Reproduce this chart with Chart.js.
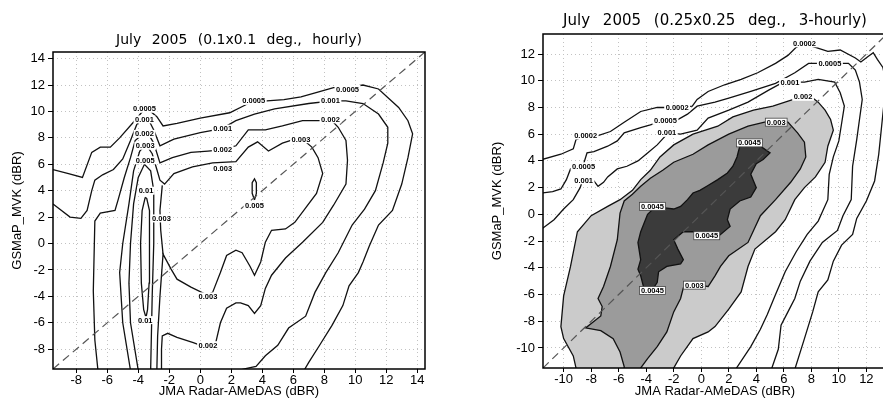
<!DOCTYPE html>
<html>
<head>
<title>GSMaP_MVK vs JMA Radar-AMeDAS, July 2005</title>
<script src="https://cdn.jsdelivr.net/npm/chart.js@4"></script>
<style>
  body {
    margin: 0;
    background: #fff;
    width: 883px;
    height: 399px;
    overflow: hidden;
    position: relative;
  }
  canvas {
    position: absolute;
    top: 0;
  }
  #hourly { left: 0; }
  #threeHourly { left: 440px; }
</style>
</head>
<body>
<canvas id="hourly" width="440" height="399"></canvas>
<canvas id="threeHourly" width="500" height="399"></canvas>

<script>
// ---- tick values ----
var hourlyTicks = [-8, -6, -4, -2, 0, 2, 4, 6, 8, 10, 12, 14];
var threeHourlyTicks = [-10, -8, -6, -4, -2, 0, 2, 4, 6, 8, 10, 12];

// ---- 0.1 deg hourly: contour lines [x, y] in dBR ----
var h0005 = [[-9.5,5.6],[-8.5,5.3],[-7.6,5.0],[-7.0,6.9],[-6.45,7.3],[-5.8,7.3],[-5.2,8.0],[-4.3,9.2],[-3.8,9.9],[-3.6,10.1],
  [-3.2,10.0],[-2.8,9.6],[-2.4,8.9],[-1.5,9.1],[0,9.5],[1.9,9.9],[3.1,10.6],[4.3,10.8],[5.4,10.9],[6.5,11.1],[7.7,11.5],
  [8.6,11.8],[9.5,11.8],[10.5,12.0],[11.5,11.7],[12.8,10.3],[13.4,9.3],[13.7,8.3],[13.4,6.5],[13.0,4.5],[12.4,2.5],
  [11.5,1.4],[10.9,-0.2],[10.5,-1.4],[10.2,-2.2],[9.6,-3.2],[9.2,-4.7],[8.5,-6.2],[7.7,-7.7],[7.0,-9.0],[6.7,-9.6]];
var h001 = [[-9.5,3.0],[-8.4,2.0],[-7.7,1.9],[-7.3,2.5],[-7.0,4.0],[-6.8,4.8],[-6.3,5.2],[-5.6,5.6],[-5.0,6.4],[-4.5,7.8],
  [-4.1,9.0],[-3.7,9.5],[-3.3,9.3],[-3.0,8.6],[-2.6,7.4],[-1.7,7.9],[0,8.4],[1.4,8.7],[2.3,9.3],[3.5,9.8],[4.8,10.2],
  [7.0,10.6],[8.5,10.8],[9.4,10.8],[10.5,10.6],[11.5,9.8],[12.1,8.8],[12.1,7.6],[11.8,6.1],[11.3,4.0],[10.6,2.6],
  [9.8,1.4],[8.9,-0.7],[8.1,-2.2],[7.4,-3.7],[6.8,-5.5],[5.7,-6.4],[5.0,-7.7],[4.2,-8.5],[3.6,-9.3],[3.0,-9.45],[2.5,-9.6]];
var h002 = [[-6.6,-9.6],[-6.8,-7.3],[-6.9,-3.6],[-6.8,1.7],[-6.45,2.3],[-5.5,2.5],[-5.3,3.3],[-4.9,5.0],[-4.5,6.5],[-4.2,7.8],
  [-3.7,8.3],[-3.3,8.2],[-3.0,7.6],[-2.6,6.1],[-1.8,6.5],[-0.6,6.9],[0.5,7.0],[1.4,7.1],[2.3,7.4],[3.1,8.6],[4.2,8.6],
  [5.3,8.9],[6.6,9.3],[8.5,9.3],[8.9,8.8],[9.4,7.8],[9.5,6.3],[9.4,4.5],[8.6,2.9],[7.9,1.6],[6.6,0.1],[5.5,-1.1],
  [4.6,-2.4],[4.2,-3.4],[3.9,-4.7],[3.5,-5.3],[3.1,-4.7],[2.6,-4.5],[2.3,-4.5],[1.7,-4.9],[1.3,-6.0],[1.0,-7.5],
  [0.45,-7.9],[-0.45,-7.5],[-1.5,-7.1],[-2.1,-6.8],[-2.45,-7.0],[-2.5,-8.0],[-2.5,-9.6]];
var h003 = [[-4.5,-9.6],[-5.0,-6.0],[-5.2,-2.2],[-5.0,0],[-4.6,3.0],[-4.3,5.5],[-3.9,7.0],[-3.5,7.5],[-3.1,6.8],[-2.8,5.6],
  [-2.6,4.8],[-2.3,4.5],[-1.7,5.3],[-0.5,5.8],[0.8,6.1],[2.3,6.2],[3.1,7.3],[3.7,7.7],[4.4,7.0],[5.3,7.6],[6.1,7.9],
  [6.5,8.0],[7.2,7.3],[7.6,6.5],[7.9,5.3],[7.5,3.8],[6.8,2.7],[6.1,1.6],[5.5,1.1],[4.6,1.0],[4.2,0.1],[3.9,-1.4],
  [3.5,-2.4],[3.2,-1.7],[2.7,-0.7],[2.3,-0.5],[1.7,-0.9],[1.3,-2.2],[0.8,-3.7],[0.45,-3.9],[-0.6,-3.3],[-1.5,-2.7],
  [-1.9,-1.9],[-2.4,-0.8],[-2.6,-4.0],[-2.75,-7.0],[-2.8,-9.6]];
var h003b = [[-2.45,4.4],[-2.6,2.5],[-2.55,1.0],[-2.4,-0.8]];
var h005 = [[-4.0,-9.6],[-4.5,-6.0],[-4.6,-3.0],[-4.5,0],[-4.3,3.0],[-4.0,5.0],[-3.6,6.0],[-3.2,5.5],[-3.0,4.0],[-3.0,0],
  [-3.1,-4.0],[-3.2,-9.6]];
var h005b = [[3.5,3.3],[3.35,3.8],[3.35,4.6],[3.5,4.9],[3.62,4.6],[3.62,3.8],[3.5,3.3]];
var h01 = [[-3.55,3.5],[-3.75,2.5],[-3.85,0],[-3.8,-3.0],[-3.65,-5.0],[-3.5,-5.6],[-3.4,-5.0],[-3.3,-3.0],[-3.25,0],
  [-3.3,2.5],[-3.45,3.4],[-3.55,3.5]];
var hourlyLabels = [
  ['0.0005',-3.6,10.2],['0.001',-3.6,9.4],['0.002',-3.6,8.3],['0.003',-3.55,7.4],['0.005',-3.55,6.3],['0.01',-3.5,4.0],
  ['0.01',-3.55,-5.8],['0.003',-2.5,1.9],['0.003',0.5,-4.0],['0.002',0.5,-7.7],['0.005',3.5,2.9],
  ['0.0005',3.45,10.8],['0.001',1.45,8.7],['0.002',1.45,7.1],['0.003',1.45,5.7],['0.003',6.5,7.9],
  ['0.0005',9.5,11.7],['0.001',8.4,10.8],['0.002',8.4,9.4]
];

// ---- 0.25 deg 3-hourly: shaded regions and contour lines ----
var t002Region = [[-9.1,-12],[-9.1,-11.5],[-9.3,-10.6],[-10.0,-9.3],[-10.2,-8.4],[-10.0,-6.1],[-9.5,-3.9],[-9.0,-1.3],
  [-8.0,-0.1],[-6.8,0.6],[-5.9,1.1],[-5.0,1.8],[-4.4,2.6],[-3.7,3.3],[-3.0,4.3],[-2.0,5.2],[-0.6,6.0],[1.2,6.6],
  [2.3,7.3],[3.8,7.8],[5.2,8.1],[6.7,8.6],[7.3,8.8],[8.0,8.8],[8.5,8.4],[9.0,7.8],[9.4,7.1],[9.6,6.3],[9.2,5.1],
  [9.0,3.9],[8.3,2.8],[7.5,2.0],[6.8,1.1],[6.1,-0.4],[5.4,-1.3],[3.9,-2.6],[3.4,-3.9],[2.9,-5.8],[2.0,-7.1],
  [1.0,-8.4],[0.5,-8.8],[-0.6,-9.3],[-1.5,-10.6],[-2.0,-11.5],[-2.0,-12]];
var t003Region = [[-5.6,-12],[-5.6,-11.4],[-5.9,-10.3],[-6.4,-9.3],[-7.3,-8.7],[-8.4,-8.5],[-7.3,-7.6],[-7.2,-6.9],
  [-7.5,-6.3],[-7.1,-5.4],[-6.6,-3.9],[-6.1,-1.9],[-5.9,0.1],[-5.6,1.0],[-5.0,1.5],[-4.4,2.1],[-3.7,2.7],[-2.8,3.3],
  [-2.0,3.9],[-0.6,4.5],[0.5,5.2],[2.0,6.0],[3.4,6.6],[4.6,6.9],[5.4,7.0],[6.3,6.9],[7.0,6.1],[7.5,5.4],[7.6,4.3],
  [7.2,3.4],[6.5,2.4],[5.4,1.1],[4.3,-0.1],[3.4,-2.1],[2.0,-3.1],[1.4,-3.9],[1.0,-4.6],[0.5,-5.4],[-0.4,-5.3],
  [-1.3,-5.5],[-1.5,-6.3],[-2.0,-7.3],[-2.5,-8.8],[-3.2,-9.9],[-3.9,-10.8],[-4.4,-11.5],[-4.4,-12]];
var t0045Region = [[2.8,5.1],[3.5,5.3],[4.3,5.1],[5.0,4.6],[4.5,4.1],[4.0,3.8],[3.6,3.0],[3.8,2.5],[4.0,2.0],[3.6,1.3],
  [2.8,1.0],[2.1,0.4],[1.9,-0.4],[2.1,-0.9],[1.3,-1.6],[0.4,-1.7],[-0.6,-1.3],[-1.3,-1.3],[-2.0,-1.9],[-1.7,-2.6],
  [-1.3,-3.4],[-1.5,-3.7],[-2.5,-3.9],[-3.1,-4.3],[-3.2,-5.1],[-3.6,-5.7],[-4.2,-5.4],[-4.4,-4.6],[-4.6,-4.1],
  [-4.4,-3.4],[-4.6,-2.1],[-4.4,-1.3],[-3.9,0],[-3.5,0.4],[-2.8,0.5],[-2.0,0.4],[-1.5,0.6],[-1.0,1.1],[-0.6,1.6],
  [-0.1,1.8],[0.4,2.1],[1.2,2.6],[1.9,3.1],[2.3,3.6],[2.6,4.3],[2.8,5.1]];
var t0002 = [[-11.6,4.1],[-10.2,4.5],[-9.3,4.9],[-9.1,5.6],[-8.4,5.9],[-7.5,5.9],[-6.6,6.2],[-5.6,6.9],[-4.4,7.7],
  [-3.2,8.0],[-1.7,8.0],[-0.65,8.1],[-0.3,8.6],[0.5,9.2],[1.7,9.7],[2.9,10.1],[4.1,10.6],[5.4,11.3],[6.3,11.9],
  [6.9,12.5],[7.4,12.8],[8.3,12.5],[9.2,12.2],[10.1,12.3],[11.2,11.7],[11.6,11.4],[12.1,11.8],[12.5,12.1],[12.8,11.6],
  [13.2,11.0],[13.4,10.0],[13.3,8.5],[13.1,6.5],[12.9,4.5],[12.6,2.5],[12.0,1.0],[11.3,-0.3],[11.0,-1.5],[10.2,-2.3],
  [9.6,-3.5],[9.2,-4.9],[8.5,-5.8],[8.1,-7.3],[7.5,-9.3],[6.8,-11.6]];
var t0005 = [[-11.6,1.6],[-10.8,1.7],[-10.2,1.9],[-9.8,2.6],[-9.5,3.4],[-8.6,3.6],[-8.3,4.6],[-7.8,4.7],[-6.8,5.1],
  [-6.1,5.5],[-5.6,6.1],[-4.4,6.5],[-3.7,6.7],[-2.8,7.0],[-1.7,7.1],[-1.0,7.5],[-0.3,8.1],[1.0,8.4],[2.0,8.7],
  [3.6,9.2],[5.4,9.8],[6.8,10.6],[7.8,11.3],[9.4,11.3],[10.7,11.3],[11.2,10.8],[11.5,9.9],[11.7,8.6],[11.5,7.1],
  [11.3,5.6],[11.0,3.6],[10.9,1.1],[10.3,-0.1],[9.9,-1.2],[8.8,-2.1],[7.9,-3.5],[7.2,-5.0],[6.8,-6.3],[6.3,-7.3],
  [5.8,-8.3],[5.6,-10.1],[5.1,-11.6]];
var t001 = [[-11.6,-1.1],[-10.7,-0.4],[-10.0,0.4],[-9.3,1.1],[-8.8,2.0],[-8.6,2.6],[-7.8,2.5],[-7.5,2.1],[-7.1,2.4],
  [-6.8,2.8],[-6.1,3.4],[-5.4,3.6],[-4.6,4.0],[-3.9,4.6],[-3.2,5.2],[-2.4,6.1],[-1.5,6.0],[-0.3,6.3],[0.5,7.2],
  [2.0,7.8],[3.4,8.4],[4.9,9.3],[5.8,9.8],[6.3,9.9],[7.5,9.9],[8.5,10.1],[9.7,9.9],[10.1,9.1],[10.4,8.1],[10.2,6.8],
  [10.0,5.5],[9.6,4.3],[9.3,3.0],[9.2,1.1],[8.5,-0.5],[7.7,-1.5],[6.9,-2.8],[6.1,-4.3],[5.4,-6.0],[4.8,-7.5],
  [4.3,-8.6],[3.6,-9.9],[2.5,-11.6]];
var threeHourlyLabels = [
  ['0.0002',-8.4,5.9],['0.0002',-1.75,8.0],['0.0002',7.5,12.8],
  ['0.0005',-8.55,3.6],['0.0005',-2.6,7.0],['0.0005',9.35,11.3],
  ['0.001',-8.55,2.55],['0.001',-2.5,6.1],['0.001',6.45,9.9],
  ['0.002',7.4,8.8],['0.003',5.45,6.9],['0.003',-0.5,-5.3],
  ['0.0045',3.5,5.35],['0.0045',-3.55,0.6],['0.0045',0.4,-1.6],['0.0045',-3.55,-5.7]
];

var FONT = '"Liberation Sans", Arial, sans-serif';

function pts(a) {
  return a.map(function (p) { return {x: p[0], y: p[1]}; });
}

function contour(a) {
  return {data: pts(a), showLine: true, pointRadius: 0, borderColor: '#111', borderWidth: 1.3, tension: 0, fill: false, order: 1};
}

function shaded(a, colour, order) {
  return {data: pts(a), showLine: true, pointRadius: 0, borderColor: '#111', borderWidth: 1.3, tension: 0,
          fill: 'shape', backgroundColor: colour, order: order};
}

function diagonal(lo, hi) {
  return {data: [{x: lo, y: lo}, {x: hi, y: hi}], showLine: true, pointRadius: 0, borderColor: '#555',
          borderWidth: 1.2, borderDash: [8, 5], fill: false, order: 0};
}

// frame around the plotting area
var frame = {
  id: 'frame',
  afterDraw: function (chart) {
    var a = chart.chartArea, ctx = chart.ctx;
    ctx.save();
    ctx.strokeStyle = '#000';
    ctx.lineWidth = 1.5;
    ctx.strokeRect(a.left, a.top, a.right - a.left, a.bottom - a.top);
    ctx.restore();
  }
};

// title centred over the plotting area
var panelTitle = {
  id: 'panelTitle',
  afterDraw: function (chart, args, opts) {
    var a = chart.chartArea, ctx = chart.ctx;
    ctx.save();
    ctx.font = opts.size + 'px "DejaVu Sans", sans-serif';
    if ('wordSpacing' in ctx) ctx.wordSpacing = opts.gap + 'px';
    ctx.fillStyle = '#000';
    ctx.textAlign = 'center';
    ctx.textBaseline = 'middle';
    ctx.fillText(opts.text, (a.left + a.right) / 2, opts.y);
    ctx.restore();
  }
};

// GrADS style contour labels on a white patch
var contourLabels = {
  id: 'contourLabels',
  afterDraw: function (chart, args, opts) {
    var ctx = chart.ctx, sx = chart.scales.x, sy = chart.scales.y;
    ctx.save();
    ctx.font = 'bold 7.5px ' + FONT;
    ctx.textAlign = 'center';
    ctx.textBaseline = 'middle';
    opts.items.forEach(function (it) {
      var px = sx.getPixelForValue(it[1]), py = sy.getPixelForValue(it[2]);
      var w = ctx.measureText(it[0]).width + 3, h = 8;
      ctx.fillStyle = '#fff';
      ctx.fillRect(px - w / 2, py - h / 2, w, h);
      if (opts.boxFrom && parseFloat(it[0]) >= opts.boxFrom) {
        ctx.strokeStyle = '#444';
        ctx.lineWidth = 0.8;
        ctx.strokeRect(px - w / 2, py - h / 2, w, h);
      }
      ctx.fillStyle = '#000';
      ctx.fillText(it[0], px, py + 0.5);
    });
    ctx.restore();
  }
};

function axis(min, max, ticks, title, size, horizontal) {
  return {
    type: 'linear',
    min: min,
    max: max,
    z: 1,
    afterBuildTicks: function (s) { s.ticks = ticks.map(function (v) { return {value: v}; }); },
    afterFit: function (s) { if (s.isHorizontal()) s.height = size; else s.width = size; },
    grid: {color: '#c2c2c2', lineWidth: 1, drawTicks: true, tickLength: horizontal ? 4 : 5, tickColor: '#000',
           tickWidth: 1, tickBorderDash: []},
    border: {display: false, dash: [1, 3]},
    ticks: {color: '#000', font: {family: FONT, size: 13}, padding: horizontal ? 0 : 3, maxRotation: 0, autoSkip: false},
    title: {display: true, text: title, color: '#000', font: {family: FONT, size: 13}, padding: 0}
  };
}

function options(pad, xr, yr, ticks, ySize, xSize, title, labels, boxFrom) {
  return {
    responsive: false,
    animation: false,
    layout: {padding: pad},
    scales: {
      x: axis(xr[0], xr[1], ticks, 'JMA Radar-AMeDAS (dBR)', xSize, true),
      y: axis(yr[0], yr[1], ticks, 'GSMaP_MVK (dBR)', ySize, false)
    },
    plugins: {
      legend: {display: false},
      tooltip: {enabled: false},
      panelTitle: title,
      contourLabels: {items: labels, boxFrom: boxFrom}
    }
  };
}

new Chart(document.getElementById('hourly'), {
  type: 'scatter',
  data: {
    datasets: [diagonal(-9.5, 14.5), contour(h0005), contour(h001), contour(h002), contour(h003), contour(h003b),
               contour(h005), contour(h005b), contour(h01)]
  },
  options: options({left: 10, right: 15, top: 52, bottom: 0}, [-9.5, 14.5], [-9.5, 14.5], hourlyTicks, 43, 30,
                   {text: 'July 2005 (0.1x0.1 deg., hourly)', y: 40, size: 14, gap: 6}, hourlyLabels, 0),
  plugins: [frame, panelTitle, contourLabels]
});

new Chart(document.getElementById('threeHourly'), {
  type: 'scatter',
  data: {
    datasets: [diagonal(-11.5, 13.5), shaded(t002Region, '#cbcbcb', 4), shaded(t003Region, '#9b9b9b', 3),
               shaded(t0045Region, '#3b3b3b', 2), contour(t0002), contour(t0005), contour(t001)]
  },
  options: options({left: 50, right: 53, top: 34, bottom: 0}, [-11.5, 13.5], [-11.5, 13.5], threeHourlyTicks, 53, 31,
                   {text: 'July 2005 (0.25x0.25 deg., 3-hourly)', y: 21, size: 15, gap: 8}, threeHourlyLabels, 0.003),
  plugins: [frame, panelTitle, contourLabels]
});
</script>
</body>
</html>
